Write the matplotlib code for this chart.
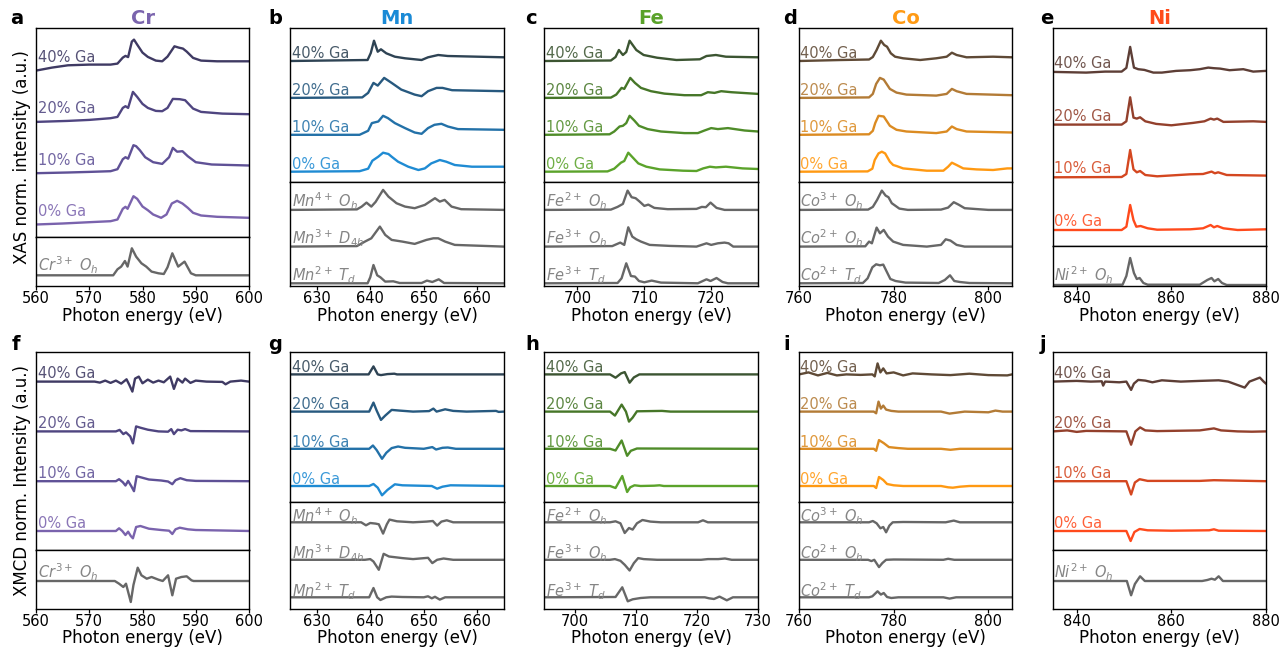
import numpy as np
import matplotlib.pyplot as plt

# ---------------- XAS data (energy eV, intensity a.u.) ----------------
cr_xas_0 = [(560,0),(565,1),(570,2.3),(574,3.3),(575.3,5),(576.3,15.7),(576.8,17.7),(577.2,15.7),(578.3,28.3),(579,25.7),(580,18),(581,14.3),(582,10),(583.5,6.7),(584.5,10),(585.5,21),(586.5,23.7),(587.5,21),(588.5,16.7),(589.5,11.7),(591,9),(594,7.7),(600,6.7)]
cr_xas_10 = [(560,0),(566,0.7),(570,1.3),(574,2),(575.3,4),(576.3,14),(576.8,16),(577.3,14.5),(578.3,28),(578.8,27),(579.5,23),(580.5,16),(582,11),(583.7,9.3),(585,16),(585.7,25.3),(586.5,21.5),(587.5,22),(588.5,17),(590,11),(593,8.7),(600,7.7)]
cr_xas_20 = [(560,0),(566,1),(570,2),(574,3.7),(575.3,5),(576.3,14),(576.8,15.7),(577.3,14),(578.2,30),(579,25),(580,18),(581,14),(582.5,11),(583.7,10.7),(584.7,14),(585.7,23),(587,22.7),(588,21.7),(589.5,13.3),(591,10),(595,8.3),(600,7.7)]
cr_xas_40 = [(560,0),(563,3),(566,5.3),(570,6),(574,6),(575.3,7),(576.3,13),(576.8,14.7),(577.3,13.5),(578,29),(578.4,31),(579,26),(580,18),(581,13.7),(582.5,10),(583.7,9.3),(584.7,14),(586,24.3),(586.8,23),(587.6,22),(588.3,19),(589.5,12.7),(591,10),(594,9.3),(597,9.3),(600,9.3)]
cr_ref = [(560,0),(574.5,0),(575.3,6),(576,8.7),(576.7,14.3),(577.2,8.7),(578,27),(578.8,18.7),(579.8,12),(580.7,8.7),(581.7,3.7),(583,2),(584,1.3),(584.7,8),(585.6,22),(586.7,8.7),(587.9,13.7),(589.1,2),(590,0),(600,0)]

mn_xas_0 = [(625,0),(638,0.5),(639.6,3),(640.4,11),(641.5,15),(642.4,19),(643.4,17.7),(644,15),(645.2,10),(647.1,5),(649,1.7),(650.2,3.3),(651.4,8.3),(653,11.7),(654.2,10),(655.8,6.7),(659,5),(665,5)]
mn_xas_10 = [(625,0),(638,0),(639.6,4),(640.3,11.7),(641.5,13.3),(642.4,19),(643.3,16.7),(644.6,11.7),(646.5,6.7),(648.3,2.3),(649.6,1),(650.8,6.7),(652,10),(653.3,11),(654.5,8.3),(656.4,5.7),(665,5)]
mn_xas_20 = [(625,0),(638.5,0.5),(639.6,5),(640.6,15),(641.4,12.3),(642.6,20),(644,15),(645.8,8.3),(648.3,3.3),(649.6,1.7),(650.8,6.7),(652.4,10),(653.5,10),(655.3,7.7),(665,6.7)]
mn_xas_40 = [(625,0),(639.5,1),(640.1,8),(640.7,20.3),(641.4,9.3),(642,11.7),(643,7.7),(644.6,4.3),(646.5,2.7),(649.6,1),(650.8,3.7),(652.7,6),(654.5,5),(665,3.7)]
mn_ref_4oh = [(625,0),(637.5,0.5),(638.4,3.3),(639.3,7.3),(640.2,3.3),(641,8),(642.4,20),(643.4,13.3),(644.9,6.7),(646.5,3.3),(648.3,1.7),(650.2,5),(652.1,11.7),(653,8.3),(653.9,10),(655.2,3.3),(657,0.7),(665,0)]
mn_ref_3d4h = [(625,0),(637.5,0.5),(639,5),(640.2,8.3),(641.8,20),(642.8,11.7),(644,6.7),(646,5),(648.3,2.7),(650.5,6.7),(651.8,8.3),(652.7,8.3),(654,5),(655.8,1.7),(665,0)]
mn_ref_2td = [(625,0),(639.5,0),(640,6),(640.6,18.3),(641.3,8),(641.9,6),(642.8,1.7),(644.3,2),(645.5,0.3),(649.6,0.3),(650.6,2.7),(651.6,1.3),(652.8,4),(653.8,0.3),(665,0)]

fe_xas_0 = [(695,0),(704.5,0.3),(705.5,3),(706.5,9),(707,10.7),(707.6,19),(708.4,13.3),(709.1,8.3),(710.3,5),(712.3,2.3),(715.8,1),(717.8,0.7),(718.8,3.3),(719.8,5),(720.7,4.3),(722.2,5),(724.7,3.3),(727,2.7)]
fe_xas_10 = [(695,0),(704.8,0.5),(705.5,3.3),(706.3,8.3),(706.8,9),(707.3,11.7),(707.8,19),(708.5,14.3),(709.2,9),(710.5,5.7),(712.5,3.3),(716,1.7),(718,1.7),(719,4.3),(720,6.7),(721,5.7),(722.5,6.7),(725,4.3),(727,3.3)]
fe_xas_20 = [(695,0),(705,0.3),(705.8,3.3),(706.6,10),(707,9),(707.9,20),(708.6,15),(709.5,10),(711,6.7),(713,4.3),(716,2.7),(718.5,2.7),(719.5,5.7),(720.5,5),(721.5,6.7),(723,5.7),(727,4)]
fe_xas_40 = [(695,0),(705,0.5),(705.7,4),(706.2,11),(706.8,6),(707.3,9),(707.8,20.3),(708.8,11),(709.9,6),(711.9,3.3),(714.8,1),(718.3,1.7),(719.3,5),(720.7,6),(722.2,4.3),(727,3.7)]
fe_ref_2oh = [(695,0),(705,0.3),(706,3),(706.8,6),(707.5,19.3),(708.1,12.7),(708.7,11.7),(709.3,8.3),(710,4),(710.6,5.3),(711.5,2),(713.5,0.7),(717.8,1),(718.6,3),(719.2,2.7),(719.9,7.3),(720.8,2),(722,0),(727,0)]
fe_ref_3oh = [(695,0),(705.2,0.5),(706.4,4),(707,1.7),(707.6,19.3),(708.2,10),(708.8,7.3),(709.5,5),(710.8,1.7),(713.8,0.7),(717.8,0),(719.3,3.3),(720,1.7),(721,3.3),(722,4),(722.6,3.3),(723.3,0),(727,0)]
fe_ref_3td = [(695,0),(706,0.3),(706.6,5),(707.3,20),(708,7.3),(708.6,6.7),(709.2,2.3),(710,1),(711.1,2.7),(712.5,0.7),(718,0),(719.3,4),(719.9,2.3),(720.8,5.3),(721.7,1.3),(722.5,0),(727,0)]

co_xas_0 = [(760,0),(774.5,0.3),(775.5,3),(776,11.7),(776.8,18.3),(777.5,20),(778.2,18.3),(779.2,10),(779.9,6.7),(780.6,5.7),(782,3.3),(787,1),(790.5,1),(791.5,5),(792.3,9),(793.3,6.7),(794.7,3.3),(797.5,2.3),(801,1.7),(804,3.3),(805,3.3)]
co_xas_10 = [(760,0),(774.8,0.5),(775.6,4),(776.1,11.7),(776.8,19),(777.9,18.3),(779.2,9),(780.6,5),(782.7,3.3),(789,1.7),(791.2,3.3),(792.3,8.3),(793.3,5.7),(795.4,3.3),(805,2.3)]
co_xas_20 = [(760,0),(774.8,0.5),(775.6,4),(776.3,14),(777.1,20),(777.9,18.3),(779.2,9),(780.6,5.3),(782.7,3.3),(789,2.3),(791.2,4),(792.3,9),(793.3,6.7),(795.4,4),(805,2.7)]
co_xas_40 = [(760,0),(769,1),(774.8,1.5),(775.6,4),(776.4,11),(777.3,20.3),(778,16),(778.6,14.3),(779.4,7.7),(780.3,4.3),(782,2.7),(785.6,1),(789,2.7),(791.2,4.3),(792.3,8.3),(793.3,6),(795.4,3.7),(801,4.3),(805,3.7)]
co_ref_3oh = [(760,0),(774.6,0.3),(775.6,3),(776.5,10),(777.5,19.3),(778.3,14.3),(778.9,12.7),(779.6,6.7),(780.4,4),(781.2,1.3),(783,0),(790,0.3),(791.5,2.3),(792.7,7.7),(793.7,5.3),(795,1.7),(797,1),(800,0),(805,0)]
co_ref_2oh = [(760,0),(774,0.3),(774.8,5),(775.4,3.3),(776.4,19),(777.1,13.3),(777.9,16.7),(778.8,10),(779.9,5),(782,1.7),(787,0),(790,1.7),(791,7.3),(792,6),(793.3,1.7),(795,0),(805,0)]
co_ref_2td = [(760,0),(773.5,0.3),(774.5,5),(775.5,16),(776.3,19),(777.1,18),(777.8,18.7),(778.6,11),(779.3,4.3),(780.4,2.3),(782.5,0.7),(789.5,0.3),(790.8,3.3),(791.9,8),(792.8,2.3),(794,1.3),(796,0.3),(805,0)]

ni_xas_0 = [(835,0),(849.5,0),(850.5,3.3),(851.3,25),(852,10),(852.6,3.3),(853.5,4),(855,1.7),(857,0.3),(864,0.7),(866.7,1.7),(868.3,5),(869,2.7),(869.7,4),(871,1.7),(874,0),(880,0.7)]
ni_xas_10 = [(835,0),(849.5,0.3),(850.5,3.3),(851.3,27.3),(852,8),(852.7,5),(853.4,6.3),(854.5,2.3),(857,1),(864,3),(866.7,3.3),(868.5,5.7),(869.2,4),(869.9,5),(871.7,2.3),(880,1.7)]
ni_xas_20 = [(835,0),(849.5,0),(850.5,3.3),(851.3,27.3),(852,7),(852.7,6),(853.4,7.3),(854.5,3.3),(856.8,0.7),(860,-0.7),(864.6,1.7),(867,3.3),(868.3,6),(869,5),(869.7,6),(871,2.7),(877.3,3.3),(880,2.7)]
ni_xas_40 = [(835,0),(842,-0.7),(846,0.3),(849.5,0.3),(850.5,4),(851.3,25),(852.1,4.3),(853,2.7),(854.3,2),(856.2,-0.7),(858,-0.7),(861,1),(864,1.7),(866,2.7),(867.8,4.3),(869,3.7),(870.3,3.3),(872.3,1.7),(875.2,2.7),(877.3,0.3),(880,1)]
ni_ref = [(835,0),(849.7,0.3),(850.5,9),(851.3,27),(852.1,12),(852.7,6),(853.3,7),(854.1,2),(855,0.3),(866,0.3),(867.6,5),(868.5,7),(869.1,3.7),(869.9,6),(870.7,2),(871.7,0),(880,0)]

# ---------------- XMCD data ----------------
cr_xmcd_0 = [(560,0),(575,0),(575.6,2.7),(576.2,0),(576.8,-4),(577.3,-0.7),(577.8,-5),(578.2,-7.3),(578.8,4),(579.6,5),(581.2,2.3),(583.5,1),(585,0.3),(585.6,-3),(586.2,1.7),(587,3.3),(588.5,1.7),(590,1),(600,0)]
cr_xmcd_10 = [(560,0),(575,0),(575.6,2),(576.3,-1),(576.8,-4.3),(577.3,0.3),(577.9,-5),(578.4,-10),(578.9,5),(579.6,4),(581.2,1.7),(583.5,0.7),(584.8,-0.3),(585.6,-3),(586.2,1),(587.1,3),(588.3,1),(590,0.3),(600,0)]
cr_xmcd_20 = [(560,0),(575,0),(575.7,1.5),(576.4,-2.7),(576.9,-1),(577.7,-5),(578.2,-12),(578.8,5),(579.6,3.7),(581,1.7),(583,0),(584.8,-0.3),(585.4,2.3),(585.9,-2.7),(586.6,1.7),(587.3,1),(588,2.3),(589,0.3),(600,0)]
cr_xmcd_40 = [(560,0),(571,0),(572,-1),(573,1),(574,-1.3),(575,1),(576,-2),(577,2.3),(577.5,-3),(578.1,-10),(578.6,3),(579.3,5),(580,-1.7),(581,2),(582,-1),(583,1),(584,-0.7),(585.2,5),(585.9,-7.3),(586.6,3),(587.5,-1),(588,3),(589,-1.3),(590,1),(592,0),(595,-0.3),(595.6,-2.7),(596.5,0),(598.5,1),(600,0)]
cr_xmcd_ref = [(560,0),(574.8,0),(575.6,-2.7),(576.4,-6),(576.9,-2.7),(577.8,-21),(578.3,-4),(579.1,13.3),(579.8,5.7),(580.8,2.3),(581.7,4),(583,1.3),(583.8,0),(584.8,5.7),(585.6,-14.3),(586.3,2.3),(587.3,4),(588.3,4.7),(589.2,0.7),(589.6,0),(600,0)]

mn_xmcd_0 = [(625,0),(639.8,0),(640.6,2),(641.4,-1.7),(642.2,-9.3),(643.2,-4),(644.6,1.7),(646,0.7),(651.5,0),(652.5,-2.7),(653.5,-0.7),(655,0.7),(665,0)]
mn_xmcd_10 = [(625,0),(639.8,0),(640.5,3.3),(641.2,-1.3),(642.2,-10),(643,-4),(644,0.7),(645.2,2.3),(646.5,1),(650,0),(651.6,1.7),(652.3,-0.7),(653.5,1),(654.5,1.3),(656,0),(665,0)]
mn_xmcd_20 = [(625,0),(639.8,0),(640.6,9),(641.2,1),(642,-8.3),(642.8,-4),(644,1.7),(645.5,1),(648,0),(651,0.5),(651.8,3),(652.4,0),(654,2.3),(655.5,0.7),(658,0),(663.5,0.7),(664,-0.3),(665,0)]
mn_xmcd_40 = [(625,0),(639.7,0),(640.6,8),(641.4,0),(642,-0.7),(643.2,0.3),(644.5,0.7),(645,0),(665,0)]
mn_xmcd_4oh = [(625,0),(638.3,0),(639.2,-3),(640,-0.7),(641,-1.3),(641.6,-2),(642.4,-11.3),(643.1,-2),(643.6,2.7),(645,1),(648,0),(650.5,0.7),(651.7,1.3),(652.5,-3.3),(653.3,0.7),(654.3,2),(655.5,0),(665,0)]
mn_xmcd_3d4h = [(625,0),(639,0),(640,0.7),(640.6,-1.7),(641.6,-10),(642.5,6),(643.5,3.3),(646,1.7),(648,0.7),(650.8,2),(651.6,-3.3),(652.5,0),(653.7,1.3),(655.5,0),(665,0)]
mn_xmcd_2td = [(625,0),(639.8,0),(640.6,9.3),(641.3,0),(641.9,-2.7),(643,0),(644,0.7),(646,0.3),(650,0),(650.8,1),(651.5,-1),(652.1,0.5),(653,-2.3),(654,0),(665,0)]

fe_xmcd_0 = [(695,0),(705.8,0),(706.7,-2),(707.8,10),(708.6,-6),(709.1,-1.3),(709.8,0.7),(710.8,0),(713,0.3),(713.9,0.7),(714.6,0),(730,0)]
fe_xmcd_10 = [(695,0),(705.8,0),(706.7,-1.7),(707.7,8.3),(708.6,-7),(709.2,-2),(710.2,0.3),(730,0)]
fe_xmcd_20 = [(695,0),(705.8,0),(706.6,-4),(707.7,7),(708.4,0),(708.9,-10),(709.5,-6),(710.2,0.3),(714.3,0.7),(715.7,0),(730,0)]
fe_xmcd_40 = [(695,0),(705.8,0),(706.7,-3.3),(707.6,1),(708.2,2.3),(709,-8.3),(709.7,-3),(710.6,0),(730,0)]
fe_xmcd_2oh = [(695,0),(705.8,0),(706.7,1),(707.5,-1),(708.2,-10.7),(708.9,-5.7),(709.5,-7.3),(710.2,-1),(711.1,2.3),(712.4,0.7),(714.1,0),(720.2,0),(721,2),(721.8,0),(730,0)]
fe_xmcd_3oh = [(695,0),(705.8,0),(706.6,0.7),(707.5,-1),(708.2,-5),(709,-10.7),(709.7,-3.3),(710.4,1.7),(711.3,0.7),(713.5,0),(720.7,0),(721.8,0.7),(723.5,0.7),(724.6,1.3),(725.7,0),(730,0)]
fe_xmcd_3td = [(695,0),(706.7,0.3),(707.8,10),(708.7,-4),(709.5,-2),(710.8,-0.7),(712.4,0),(721.3,0),(722,-1),(722.8,-1.7),(723.7,0.7),(724.9,-3),(725.9,0),(730,0)]

co_xmcd_0 = [(760,0),(775.8,0),(776.3,-2),(776.9,9),(777.8,6),(778.6,2),(780,0.7),(782,0),(790,0),(791.5,-1.3),(792.5,-1.7),(794,-0.7),(796,0),(805,0)]
co_xmcd_10 = [(760,0),(775.8,0),(776.3,-2),(776.9,8.7),(777.9,5.7),(779,1.7),(781,0.7),(783,0),(790,0),(792,-1),(794,0),(805,0)]
co_xmcd_20 = [(760,0),(775.8,0),(776.3,-1.7),(776.8,10),(777.3,3),(777.8,6),(778.4,2),(779.5,0.7),(781,0),(790,0),(791.8,-2),(795,0),(800,-0.7),(801.5,1),(803,0),(805,0)]
co_xmcd_40 = [(760,0),(762,2),(764,-1),(766,1.5),(768,-1),(770,0),(773,-0.5),(775.5,0),(776,-2),(776.6,11),(777.2,2),(777.8,6),(778.5,1),(780,2),(782,-1),(784,1),(788,0),(792,-0.7),(796,0.7),(800,-0.7),(804,-1),(805,0)]
co_xmcd_3oh = [(760,0),(774.8,0),(775.6,1.3),(776.4,-1),(777.2,-6),(777.8,-4.7),(778.4,-10),(779.1,-3.3),(779.8,0),(782,0.3),(791,0),(792.7,1.7),(794,0),(805,0)]
co_xmcd_2oh = [(760,0),(774.6,0),(775.3,-1.3),(775.9,0),(776.9,-7.3),(777.6,-3.3),(778.4,0),(780,0.3),(790.5,0),(791.5,1),(792.8,0),(805,0)]
co_xmcd_2td = [(760,0),(774.8,0),(775.5,1),(776.6,6),(777.3,2.7),(777.9,4.3),(778.6,0.3),(779.5,-0.7),(781,0),(790.5,0),(791.8,-1.3),(793.2,0),(805,0)]

ni_xmcd_0 = [(835,0),(850.5,0),(851.4,-10),(852.2,-1),(853.3,2),(855,0.7),(860,0.3),(868,0.7),(869,1.7),(870,0.3),(880,0)]
ni_xmcd_10 = [(835,0),(850.5,0),(851.5,-13.3),(852.3,-1.3),(853.3,2),(855,0.3),(866,0.3),(869,1),(880,0)]
ni_xmcd_20 = [(835,0),(838,1),(840,-0.5),(842,0.5),(850.5,0),(851.5,-13.3),(852.4,0),(853.4,4),(854.5,1),(857,0.3),(866,1),(869,3),(870.5,1),(874,0),(877,-0.3),(880,0)]
ni_xmcd_40 = [(835,0),(840,0.7),(843,0),(845.3,0.3),(845.6,-4),(846,0),(849,-0.7),(850.5,0),(851.5,-8.3),(852.1,-2),(853,1.7),(854.5,1),(856,-0.7),(858,1.3),(862,0),(866,0.7),(870,1.3),(872,0),(875.5,-6),(876.5,0),(878.7,4),(879.5,0),(880,-2)]
ni_xmcd_ref = [(835,0),(850.6,0),(851.5,-14.3),(852.3,-3),(853.4,4.7),(854.4,0),(866.5,0),(867.6,1),(868.5,2.3),(869.2,1.3),(870,4.7),(870.9,0),(880,0)]

# ---------------- labels / colours ----------------
elements = ['Cr', 'Mn', 'Fe', 'Co', 'Ni']
ga_labels = ['0% Ga', '10% Ga', '20% Ga', '40% Ga']
title_colors = ['#7a64ad', '#1a8ad6', '#5aa22a', '#ff9a14', '#ff4a1a']
sample_colors = [
    ['#7a63ad', '#5f5196', '#4f4580', '#3f3a63'],
    ['#1f8bd3', '#2371a8', '#27597f', '#2e4354'],
    ['#5ba32b', '#4f8c29', '#467628', '#3c5532'],
    ['#ff9912', '#db8b22', '#b37b36', '#5f4a36'],
    ['#ff4a1c', '#d44720', '#93402c', '#5d3e36'],
]
# reference labels, listed bottom -> top
ref_labels = [
    [r'$Cr^{3+}\ O_h$'],
    [r'$Mn^{2+}\ T_d$', r'$Mn^{3+}\ D_{4h}$', r'$Mn^{4+}\ O_h$'],
    [r'$Fe^{3+}\ T_d$', r'$Fe^{3+}\ O_h$', r'$Fe^{2+}\ O_h$'],
    [r'$Co^{2+}\ T_d$', r'$Co^{2+}\ O_h$', r'$Co^{3+}\ O_h$'],
    [r'$Ni^{2+}\ O_h$'],
]
xas_samples = [
    [cr_xas_0, cr_xas_10, cr_xas_20, cr_xas_40],
    [mn_xas_0, mn_xas_10, mn_xas_20, mn_xas_40],
    [fe_xas_0, fe_xas_10, fe_xas_20, fe_xas_40],
    [co_xas_0, co_xas_10, co_xas_20, co_xas_40],
    [ni_xas_0, ni_xas_10, ni_xas_20, ni_xas_40],
]
xas_refs = [[cr_ref], [mn_ref_2td, mn_ref_3d4h, mn_ref_4oh],
            [fe_ref_3td, fe_ref_3oh, fe_ref_2oh],
            [co_ref_2td, co_ref_2oh, co_ref_3oh], [ni_ref]]
xmcd_samples = [
    [cr_xmcd_0, cr_xmcd_10, cr_xmcd_20, cr_xmcd_40],
    [mn_xmcd_0, mn_xmcd_10, mn_xmcd_20, mn_xmcd_40],
    [fe_xmcd_0, fe_xmcd_10, fe_xmcd_20, fe_xmcd_40],
    [co_xmcd_0, co_xmcd_10, co_xmcd_20, co_xmcd_40],
    [ni_xmcd_0, ni_xmcd_10, ni_xmcd_20, ni_xmcd_40],
]
xmcd_refs = [[cr_xmcd_ref], [mn_xmcd_2td, mn_xmcd_3d4h, mn_xmcd_4oh],
             [fe_xmcd_3td, fe_xmcd_3oh, fe_xmcd_2oh],
             [co_xmcd_2td, co_xmcd_2oh, co_xmcd_3oh], [ni_xmcd_ref]]

xlims_xas = [(560, 600), (625, 665), (695, 727), (760, 805), (835, 880)]
xlims_xmcd = [(560, 600), (625, 665), (695, 730), (760, 805), (835, 880)]
ticks_xas = [[560, 570, 580, 590, 600], [630, 640, 650, 660], [700, 710, 720],
             [760, 780, 800], [840, 860, 880]]
ticks_xmcd = [[560, 570, 580, 590, 600], [630, 640, 650, 660], [700, 710, 720, 730],
              [760, 780, 800], [840, 860, 880]]

# ---------------- layout (pixels) ----------------
W, H = 1288, 650
fig = plt.figure(figsize=(W / 100, H / 100), dpi=100)

cols_x = [(36, 249), (290, 504), (544, 758), (799, 1012), (1053, 1266)]
REF_GRAY = '#676767'
REF_TEXT = '#858585'


def px_axes(x0, y0, x1, y1):
    return fig.add_axes([x0 / W, 1 - y1 / H, (x1 - x0) / W, (y1 - y0) / H])


def stack(ax, curves, labels, colors, base, step, lift, height, width, ref=False):
    ax.set_ylim(0, height)
    for i, (c, lab, col) in enumerate(zip(curves, labels, colors)):
        d = np.array(c, dtype=float)
        off = base + i * step
        ax.plot(d[:, 0], d[:, 1] + off, color=col, lw=1.7, solid_joinstyle='round')
        ax.text(1.5 / width, off + lift, lab, transform=ax.get_yaxis_transform(),
                ha='left', va='center', fontsize=10.5, color=REF_TEXT if ref else col,
                alpha=1.0 if ref else 0.88)


def style(ax, xlim, ticks=None, labelpad=0):
    ax.set_xlim(*xlim)
    ax.set_yticks([])
    for s in ax.spines.values():
        s.set_linewidth(1.0)
        s.set_color('black')
    if ticks is None:
        ax.set_xticks([])
    else:
        ax.set_xticks(ticks)
        ax.tick_params(axis='x', labelsize=10.5, length=3, width=0.9, pad=0.5)
        ax.set_xlabel('Photon energy (eV)', fontsize=12, labelpad=labelpad)


# row configs: y_top, y_bottom, dividers, sample (base, step, lift), ref (base, step, lift)
rows = [
    dict(top=28, bot=286, div=[237, 182, 182, 182, 246], pad=0.5,
         samp=[(12.5, 51.3, 13), (10.3, 36.9, 7.5), (10.3, 36.9, 7.5), (10.3, 36.9, 7.5), (16, 52.7, 8.3)],
         refp=[(10.7, 0, 9.6), (2.7, 36.7, 8.3), (2.7, 36.7, 8.3), (2.7, 36.7, 8.3), (1.0, 0, 9.3)],
         samples=xas_samples, refs=xas_refs, xlims=xlims_xas, ticks=ticks_xas),
    dict(top=352, bot=609, div=[550, 502, 502, 502, 550], pad=0,
         samp=[(19, 49.8, 7.7), (16, 37.2, 6.7), (16, 37.2, 6.7), (16, 37.2, 6.7), (19, 49.8, 7.7)],
         refp=[(28, 0, 9), (11.7, 37.5, 6.5), (11.7, 37.5, 6.5), (11.7, 37.5, 6.5), (28, 0, 9)],
         samples=xmcd_samples, refs=xmcd_refs, xlims=xlims_xmcd, ticks=ticks_xmcd),
]

for r, row in enumerate(rows):
    for k in range(5):
        x0, x1 = cols_x[k]
        dv = row['div'][k]
        ax_s = px_axes(x0, row['top'], x1, dv)
        ax_r = px_axes(x0, dv, x1, row['bot'])
        b, st, lf = row['samp'][k]
        stack(ax_s, row['samples'][k], ga_labels, sample_colors[k], b, st, lf,
              dv - row['top'], x1 - x0)
        b, st, lf = row['refp'][k]
        stack(ax_r, row['refs'][k], ref_labels[k], [REF_GRAY] * 3, b, st, lf,
              row['bot'] - dv, x1 - x0, ref=True)
        style(ax_s, row['xlims'][k])
        style(ax_r, row['xlims'][k], row['ticks'][k], row['pad'])
        if r == 0:
            fig.text((x0 + x1) / 2 / W, 1 - 19 / H, elements[k], ha='center', va='center',
                     fontsize=14, fontweight='bold', color=title_colors[k])

# panel letters
letters_top = [('a', 17), ('b', 275), ('c', 531), ('d', 790), ('e', 1047)]
letters_bot = [('f', 16), ('g', 275), ('h', 532), ('i', 787), ('j', 1043)]
for lt, x in letters_top:
    fig.text(x / W, 1 - 19 / H, lt, ha='center', va='center', fontsize=14, fontweight='bold')
for lt, x in letters_bot:
    fig.text(x / W, 1 - 345 / H, lt, ha='center', va='center', fontsize=14, fontweight='bold')

fig.text(22 / W, 1 - 157 / H, 'XAS norm. intensity (a.u.)', rotation=90,
         ha='center', va='center', fontsize=12)
fig.text(22 / W, 1 - 480 / H, 'XMCD norm. Intensity (a.u.)', rotation=90,
         ha='center', va='center', fontsize=12)

fig.savefig('out.png', dpi=100)
